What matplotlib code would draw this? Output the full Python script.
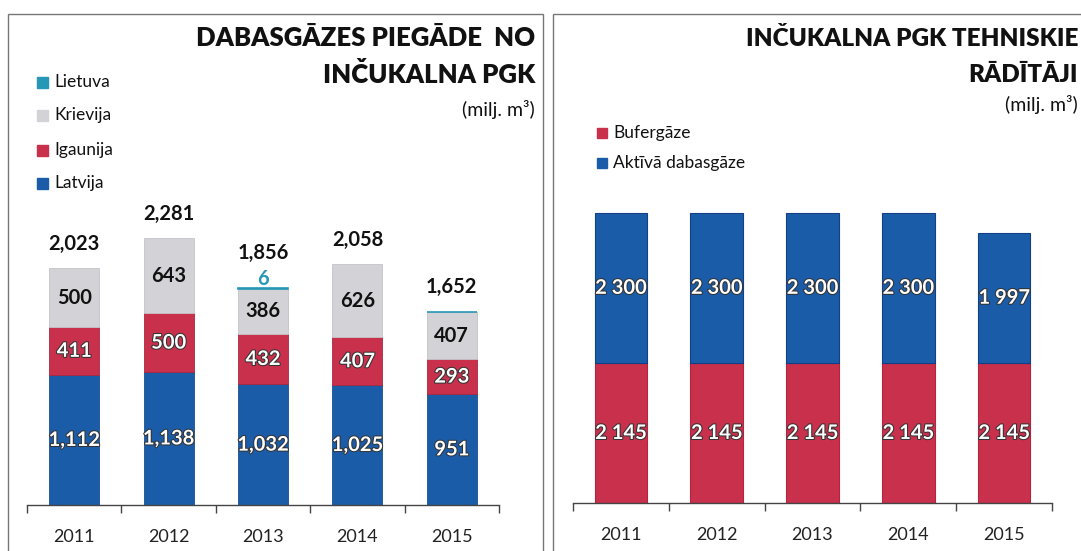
import matplotlib.pyplot as plt
import matplotlib.patheffects as pe
from matplotlib.patches import Rectangle

years = ['2011', '2012', '2013', '2014', '2015']

# left chart: supply from Inčukalns storage by country
latvija = [1112, 1138, 1032, 1025, 951]
igaunija = [411, 500, 432, 407, 293]
krievija = [500, 643, 386, 626, 407]
lietuva = [0, 0, 6, 0, 1]
totals = [2023, 2281, 1856, 2058, 1652]

# right chart: technical indicators
bufergaze = [2145, 2145, 2145, 2145, 2145]
aktiva = [2300, 2300, 2300, 2300, 1997]

BLUE = '#1b5ca8'
RED = '#c9304b'
GREY = '#d3d3d7'
TEAL = '#2797b6'

plt.rcParams['font.family'] = ['Lato', 'DejaVu Sans']

fig = plt.figure(figsize=(10.81, 5.51), dpi=100)
W, H = 1081, 551


def fx(px):
    return px / W


def fy(py):
    return 1 - py / H


# panel frames
fig.patches.append(Rectangle((fx(8), fy(560)), fx(543 - 8), fy(14) - fy(560),
                             transform=fig.transFigure, fill=False,
                             edgecolor='#777777', lw=1.0))
fig.patches.append(Rectangle((fx(553), fy(560)), fx(1100 - 553), fy(14) - fy(560),
                             transform=fig.transFigure, fill=False,
                             edgecolor='#777777', lw=1.0))

outline = [pe.withStroke(linewidth=1.5, foreground='#333333')]


def style_axis(ax, ymax):
    ax.set_xlim(-0.5, 4.5)
    ax.set_ylim(0, ymax)
    for s in ['top', 'right', 'left']:
        ax.spines[s].set_visible(False)
    ax.spines['bottom'].set_color('#444444')
    ax.spines['bottom'].set_linewidth(1.0)
    ax.set_yticks([])
    ax.set_xticks(range(5))
    ax.set_xticklabels(years, fontsize=13, color='#222222')
    ax.tick_params(axis='x', which='major', length=0, pad=17)
    ax.set_xticks([i - 0.5 for i in range(6)], minor=True)
    ax.tick_params(axis='x', which='minor', length=6, width=1.0, color='#444444')
    ax.patch.set_alpha(0)


# ---- left chart ----
ax1 = fig.add_axes([fx(27), fy(505), fx(499 - 27), fy(200) - fy(505)])
ymax1 = 305 / 0.117
style_axis(ax1, ymax1)
x = list(range(5))
bw = 0.53
ax1.bar(x, latvija, bw, color=BLUE, edgecolor='#1a4f90', lw=0.6)
b2 = [a for a in latvija]
ax1.bar(x, igaunija, bw, bottom=b2, color=RED, edgecolor='#a82840', lw=0.6)
b3 = [a + b for a, b in zip(latvija, igaunija)]
ax1.bar(x, krievija, bw, bottom=b3, color=GREY, edgecolor='#c4c4c8', lw=0.6)
b4 = [a + b for a, b in zip(b3, krievija)]
lx = [i for i in x if lietuva[i] > 0]
ax1.bar(lx, [lietuva[i] for i in lx], bw, bottom=[b4[i] for i in lx],
        color=TEAL, edgecolor=TEAL, lw=1.2)

for i in x:
    ax1.text(i, latvija[i] / 2, f'{latvija[i]:,}', ha='center', va='center',
             fontsize=14.5, fontweight='bold', color='white', path_effects=outline)
    ax1.text(i, b2[i] + igaunija[i] / 2, f'{igaunija[i]:,}', ha='center', va='center',
             fontsize=14.5, fontweight='bold', color='white', path_effects=outline)
    ax1.text(i, b3[i] + krievija[i] / 2, f'{krievija[i]:,}', ha='center', va='center',
             fontsize=14.5, fontweight='bold', color='#111111')
    top = b4[i] + lietuva[i]
    off = 210
    if lietuva[i] >= 5:
        ax1.text(i, top + 75, f'{lietuva[i]}', ha='center', va='center',
                 fontsize=14.5, fontweight='bold', color=TEAL)
        off = 300
    ax1.text(i, top + off, f'{totals[i]:,}', ha='center', va='center',
             fontsize=14.5, fontweight='bold', color='#111111')

# left title and legend
fig.text(fx(535), fy(38), 'DABASGĀZES PIEGĀDE  NO', ha='right', va='center',
         fontsize=18.5, fontweight='heavy', color='#111111')
fig.text(fx(535), fy(75), 'INČUKALNA PGK', ha='right', va='center',
         fontsize=18.5, fontweight='heavy', color='#111111')
fig.text(fx(535), fy(110), '(milj. m³)', ha='right', va='center',
         fontsize=14, color='#111111')

leg1 = [('Lietuva', TEAL, 82), ('Krievija', GREY, 115),
        ('Igaunija', RED, 150), ('Latvija', BLUE, 183)]
for name, col, yy in leg1:
    fig.patches.append(Rectangle((fx(37), fy(yy + 5.5)), fx(11), fy(yy - 5.5) - fy(yy + 5.5),
                                 transform=fig.transFigure, color=col))
    fig.text(fx(54), fy(yy), name, ha='left', va='center', fontsize=12.5,
             color='#111111')

# ---- right chart ----
ax2 = fig.add_axes([fx(573), fy(503), fx(1052 - 573), fy(200) - fy(503)])
ymax2 = 303 / 0.0653
style_axis(ax2, ymax2)
bw2 = 0.55
ax2.bar(x, bufergaze, bw2, color=RED, edgecolor='#b02540', lw=0.8)
ax2.bar(x, aktiva, bw2, bottom=bufergaze, color=BLUE, edgecolor='#123f85', lw=0.8)
for i in x:
    ax2.text(i, bufergaze[i] / 2, f'{bufergaze[i]:,}'.replace(',', ' '),
             ha='center', va='center', fontsize=14.5, fontweight='bold',
             color='white', path_effects=outline)
    ax2.text(i, bufergaze[i] + aktiva[i] / 2, f'{aktiva[i]:,}'.replace(',', ' '),
             ha='center', va='center', fontsize=14.5, fontweight='bold',
             color='white', path_effects=outline)

fig.text(fx(1078), fy(38), 'INČUKALNA PGK TEHNISKIE', ha='right', va='center',
         fontsize=17.5, fontweight='heavy', color='#111111')
fig.text(fx(1078), fy(75), 'RĀDĪTĀJI', ha='right', va='center',
         fontsize=17.5, fontweight='heavy', color='#111111')
fig.text(fx(1078), fy(104), '(milj. m³)', ha='right', va='center',
         fontsize=14, color='#111111')

leg2 = [('Bufergāze', RED, 133), ('Aktīvā dabasgāze', BLUE, 163)]
for name, col, yy in leg2:
    fig.patches.append(Rectangle((fx(597), fy(yy + 5)), fx(10), fy(yy - 5) - fy(yy + 5),
                                 transform=fig.transFigure, color=col))
    fig.text(fx(613), fy(yy), name, ha='left', va='center', fontsize=12.5,
             color='#111111')

fig.savefig('out.png', dpi=100)
